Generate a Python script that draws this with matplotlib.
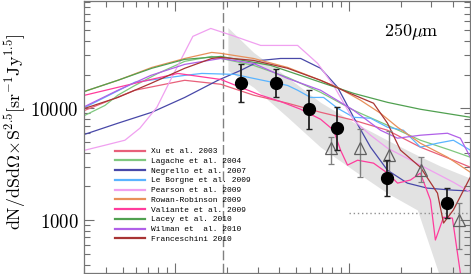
import matplotlib
matplotlib.use("Agg")
import matplotlib.pyplot as plt
from matplotlib.ticker import LogLocator, FixedLocator, FuncFormatter, NullFormatter

plt.rcParams['mathtext.fontset'] = 'cm'

# ---------------- data (flux in mJy, counts in sr^-1 Jy^1.5) ----------------
xu_f = [3.04, 5.89, 11.4, 18.4, 28.4, 44.6, 69.0, 106.9, 167.5, 259, 401, 502]
xu_v = [9600, 14500, 17800, 16400, 13100, 11100, 9210, 7820, 6360, 4490, 3430, 2970]

lagache_f = [3.04, 3.96, 4.70, 5.89, 7.98, 11.4, 16.3, 28.4, 44.6, 69.0, 106.9, 167.5, 259, 385, 502]
lagache_v = [8660, 10600, 13100, 16000, 20500, 26300, 29100, 24200, 18900, 13900, 9600, 7050, 5180, 4220, 3650]

negrello_f = [3.04, 4.70, 7.37, 11.4, 17.7, 23.9, 31.2, 40.6, 53.0, 69.0, 86.5, 106.9, 133.8, 167.5, 218, 284, 401, 502]
negrello_v = [5860, 7350, 9210, 12500, 17800, 21800, 26800, 27900, 27900, 22800, 15400, 8310, 4490, 2790, 2140, 1930, 1850, 1820]

leborgne_f = [3.04, 5.89, 11.4, 14.3, 22.1, 28.4, 44.6, 50.9, 60.5, 71.8, 86.5, 106.9, 133.8, 167.5, 207, 259, 325, 401, 502]
leborgne_v = [10200, 17100, 19700, 20500, 20100, 18500, 16000, 14500, 12500, 12500, 10000, 8310, 8150, 6770, 6360, 4490, 4870, 5180, 4220]

pearson_f = [3.04, 3.96, 5.16, 6.29, 7.88, 9.61, 12.7, 16.1, 21.3, 31.2, 50.9, 66.4, 82.0, 106.9, 133.8, 167.5, 259, 401, 502]
pearson_v = [4220, 4670, 5180, 6630, 10200, 18900, 44000, 51800, 44900, 36500, 36500, 25200, 16000, 7820, 5740, 4400, 3100, 2180, 1780]

rowan_f = [3.04, 4.70, 7.37, 11.4, 16.3, 18.4, 28.4, 44.6, 69.0, 86.5, 117.2, 152.7, 191.4, 259, 371, 502]
rowan_v = [14200, 17800, 23200, 27900, 31600, 31000, 27900, 23200, 17800, 15400, 11800, 9020, 6770, 4870, 3650, 2680]

valiante_f = [3.04, 4.70, 7.28, 10.4, 18.4, 23.9, 31.2, 40.6, 53.0, 69.0, 82.0, 89.9, 98.6, 112.7, 139.2,
              167.5, 191.4, 227, 259, 296, 316, 352, 396, 440, 458]
valiante_v = [13100, 15400, 18100, 20500, 18100, 15400, 13100, 11500, 9800, 7980, 6360, 4220, 3100, 3430, 3230,
              2630, 2140, 2280, 2630, 1510, 663, 1060, 1040, 336, 237]

lacey_f = [3.04, 4.70, 7.37, 11.4, 18.4, 35.6, 69.0, 106.9, 167.5, 259, 502]
lacey_v = [14200, 17800, 22800, 27400, 29100, 24200, 17100, 13600, 11300, 9800, 8310]

wilman_f = [3.04, 4.70, 7.28, 11.4, 18.4, 28.4, 44.6, 69.0, 106.9, 152.7, 191.4, 259, 371, 440, 502]
wilman_v = [10400, 14500, 19700, 24700, 27900, 25200, 18500, 14500, 9600, 6360, 5400, 5740, 5980, 5400, 3650]

fransc_f = [3.04, 4.70, 7.28, 11.4, 16.3, 18.4, 28.4, 44.6, 69.0, 98.6, 139.2, 167.5, 199, 259, 325, 352, 401, 502]
fransc_v = [10000, 12500, 16700, 22800, 27900, 28500, 26800, 22800, 17800, 13900, 11100, 7350, 4220, 2970, 1740, 940, 1230, 2420]

# measured counts (filled circles)
pts_f = [24.1, 38.0, 59.3, 86.0, 167, 371]
pts_v = [16700, 16700, 9800, 6600, 2400, 1420]
pts_hi = [25000, 22300, 14700, 10300, 3430, 1920]
pts_lo = [11400, 12600, 6540, 4220, 1640, 1050]

# other measurements (open triangles)
tri_f = [79.6, 116, 170, 260, 430]
tri_v = [4380, 4400, 3800, 2790, 1000]
tri_hi = [5510, 6500, 6240, 3650, 1420]
tri_lo = [3160, 2420, 2400, 2180, 551]

# shaded band
band_f = [20.2, 28.4, 44.6, 69.0, 106.9, 167.5, 249, 338, 502]
band_hi = [52800, 31600, 18900, 11300, 7500, 5180, 3800, 3040, 2370]
band_lo = [21800, 15400, 8310, 4490, 2790, 1740, 1230, 300, 300]

vline_f = 18.95
hline_v = 1160
hline_f = [100, 502]

labels = ["Xu et al. 2003", "Lagache et al. 2004", "Negrello et al. 2007", "Le Borgne et al. 2009",
          "Pearson et al. 2009", "Rowan-Robinson 2009", "Valiante et al. 2009", "Lacey et al. 2010",
          "Wilman et  al. 2010", "Franceschini 2010"]
colors = ['#e8607a', '#7fc87f', '#4848a8', '#5ab4ff', '#f0a0f0',
          '#e8905a', '#ff3c9c', '#50a050', '#b060e8', '#a83434']
model_f = [xu_f, lagache_f, negrello_f, leborgne_f, pearson_f, rowan_f, valiante_f, lacey_f, wilman_f, fransc_f]
model_v = [xu_v, lagache_v, negrello_v, leborgne_v, pearson_v, rowan_v, valiante_v, lacey_v, wilman_v, fransc_v]

# ---------------- figure ----------------
W, H = 471, 274
fig = plt.figure(figsize=(W / 100, H / 100), dpi=100)
ax_l, ax_b, ax_w, ax_h = 84 / W, 1 / H, 386 / W, 272.5 / H
ax = fig.add_axes([ax_l, ax_b, ax_w, ax_h])
ax.set_xscale('log')
ax.set_yscale('log')
ax.set_xlim(3.0, 500)
ax.set_ylim(336, 92100)

ax.fill_between(band_f, band_lo, band_hi, color='#e2e2e2', lw=0, zorder=0)
ax.axvline(vline_f, color='#808080', lw=1.0, ls=(0, (7, 2.5)), zorder=1)
ax.plot(hline_f, [hline_v, hline_v], color='#909090', lw=1.0, ls=(0, (1, 2)), zorder=1)

for f, v, c in zip(model_f, model_v, colors):
    ax.plot(f, v, color=c, lw=0.9, zorder=2)

ax.errorbar(tri_f, tri_v,
            yerr=[[v - l for v, l in zip(tri_v, tri_lo)], [h - v for v, h in zip(tri_v, tri_hi)]],
            fmt='^', ms=8, mfc='none', mec='#606060', mew=0.9, ecolor='#808080',
            elinewidth=1.0, capsize=2.5, capthick=1.0, zorder=3)
ax.errorbar(pts_f, pts_v,
            yerr=[[v - l for v, l in zip(pts_v, pts_lo)], [h - v for v, h in zip(pts_v, pts_hi)]],
            fmt='o', ms=8.5, color='black', ecolor='#222222',
            elinewidth=1.3, capsize=2.5, capthick=1.0, zorder=4)

# ticks
ax.tick_params(which='both', direction='in', top=True, right=True, colors='#707070',
               labelcolor='black')
ax.tick_params(which='major', length=7, width=0.8)
ax.tick_params(which='minor', length=4, width=0.8)
ax.xaxis.set_major_locator(LogLocator(base=10))
ax.xaxis.set_minor_locator(LogLocator(base=10, subs=range(2, 10)))
ax.xaxis.set_major_formatter(NullFormatter())
ax.xaxis.set_minor_formatter(NullFormatter())
ax.yaxis.set_major_locator(FixedLocator([1000, 10000]))
ax.yaxis.set_minor_locator(LogLocator(base=10, subs=range(2, 10)))
ax.yaxis.set_major_formatter(FuncFormatter(lambda v, p: r'$%d$' % int(round(v))))
ax.yaxis.set_minor_formatter(NullFormatter())
ax.tick_params(axis='y', labelsize=13.5, pad=4)
for s in ax.spines.values():
    s.set_color('#777777')
    s.set_linewidth(0.9)

ylab = fig.text(12 / W, 1 - 131.5 / H,
                r'$\mathrm{dN/dSd\Omega\!\times\! S^{2.5}[sr^{-1}Jy^{1.5}]}$',
                rotation=90, ha='center', va='center', fontsize=11)

ax.text(0.847, 0.886, r'$250\mu\mathrm{m}$', transform=ax.transAxes,
        ha='center', va='center', fontsize=13)

# legend drawn manually (handle lines + monospace labels)
def ax_frac(px, py):
    return (px / W - ax_l) / ax_w, ((H - py) / H - ax_b) / ax_h

leg_texts = []
for i, (lab, c) in enumerate(zip(labels, colors)):
    yp = 150.7 + 9.73 * i
    x0, y0 = ax_frac(115, yp)
    x1, _ = ax_frac(145, yp)
    xt, _ = ax_frac(151, yp)
    ax.plot([x0, x1], [y0, y0], transform=ax.transAxes, color=c, lw=1.6,
            clip_on=False, zorder=5)
    t = ax.text(xt, y0, lab, transform=ax.transAxes, ha='left', va='center_baseline',
                family='Liberation Mono', fontsize=6, zorder=5)
    leg_texts.append(t)

# fit text sizes to the reference extents
fig.canvas.draw()
r = fig.canvas.get_renderer()
wx = leg_texts[0].get_window_extent(r).width
fs = 6 * 66.0 / wx
for t in leg_texts:
    t.set_fontsize(fs)
hy = ylab.get_window_extent(r).height
ylab.set_fontsize(11 * 197.0 / hy)
fig.canvas.draw()
bb = ylab.get_window_extent(r)
cx = (bb.x0 + bb.x1) / 2
shift = max(0.0, 2.0 - bb.x0)
ylab.set_x((cx + shift) / W)

fig.savefig('out.png', dpi=100)
